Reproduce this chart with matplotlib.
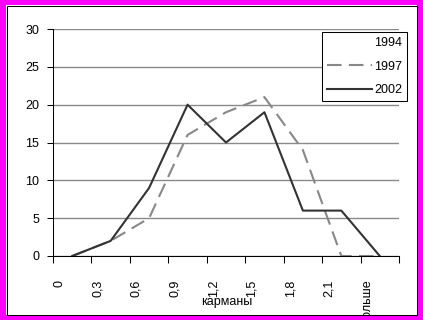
import matplotlib
matplotlib.use("Agg")
import matplotlib.pyplot as plt
from matplotlib.patches import Rectangle
import numpy as np

plt.rcParams['font.family'] = ['Liberation Sans', 'DejaVu Sans']

# data
categories = ["0", "0,3", "0,6", "0,9", "1,2", "1,5", "1,8", "2,1", "больше"]
v1994 = []  # series is drawn in white, no points visible
v1997 = [0, 2, 5, 16, 19, 21, 14, 0, 0]
v2002 = [0, 2, 9, 20, 15, 19, 6, 6, 0]
yticks = [0, 5, 10, 15, 20, 25, 30]

W, H = 423, 320
fig = plt.figure(figsize=(W / 100, H / 100), dpi=100, facecolor='white')
ax = fig.add_axes([53 / W, 1 - 256 / H, 346 / W, 227 / H])

x = np.arange(len(categories))
ax.plot(x[:len(v1994)], v1994, color='white', lw=1.5, label='1994')
ax.plot(x, v1997, color='#888888', lw=1.5, dashes=(7, 3.5), label='1997')
ax.plot(x, v2002, color='#333333', lw=1.5, label='2002')

ax.set_xlim(-0.5, len(categories) - 0.5)
ax.set_ylim(0, 30)
ax.set_yticks(yticks)
ax.yaxis.grid(True, color='#8a8a8a', lw=1)
ax.set_axisbelow(True)

# tick marks between categories, labels shifted left like the original
ax.set_xticks(np.arange(-0.5, len(categories), 1))
ax.set_xticklabels([])
ax.set_xticks(x - 0.33, minor=True)
ax.set_xticklabels(categories, minor=True, rotation=90, fontsize=9)
ax.tick_params(axis='x', which='major', length=5, width=0.75, direction='out')
ax.tick_params(axis='x', which='minor', length=0, pad=17)
ax.tick_params(axis='y', length=4, width=0.75, pad=6, labelsize=9)

for s in ['top', 'right']:
    ax.spines[s].set_visible(False)
for s in ['left', 'bottom']:
    ax.spines[s].set_linewidth(0.75)
    ax.spines[s].set_color('black')

leg = ax.legend(loc='upper right', bbox_to_anchor=(407 / W, 1 - 32 / H),
                bbox_transform=fig.transFigure, borderaxespad=0, fancybox=False,
                edgecolor='black', framealpha=1, fontsize=9, handlelength=3.6,
                handletextpad=0.2, labelspacing=0.92, borderpad=0.4)
leg.get_frame().set_linewidth(0.75)

fig.text(227 / W, 1 - 302 / H, "карманы", ha='center', va='center', fontsize=9)
fig.text(8 / W, 1 - 148 / H, "Частота", ha='right', va='center', rotation=90, fontsize=9)

# magenta border with thin black inner line
def px_rect(x0, y0, x1, y1, **kw):
    fig.add_artist(Rectangle((x0 / W, 1 - y1 / H), (x1 - x0) / W, (y1 - y0) / H,
                             transform=fig.transFigure, **kw))

for r in [(0, 0, W, 5), (0, 315, W, H), (0, 0, 6, H), (417, 0, W, H)]:
    px_rect(*r, facecolor='#ff00ff', edgecolor='none', zorder=10)
px_rect(6.5, 5.5, 416.5, 314.5, facecolor='none', edgecolor='black', lw=0.75, zorder=11)

fig.savefig('out.png', dpi=100)
